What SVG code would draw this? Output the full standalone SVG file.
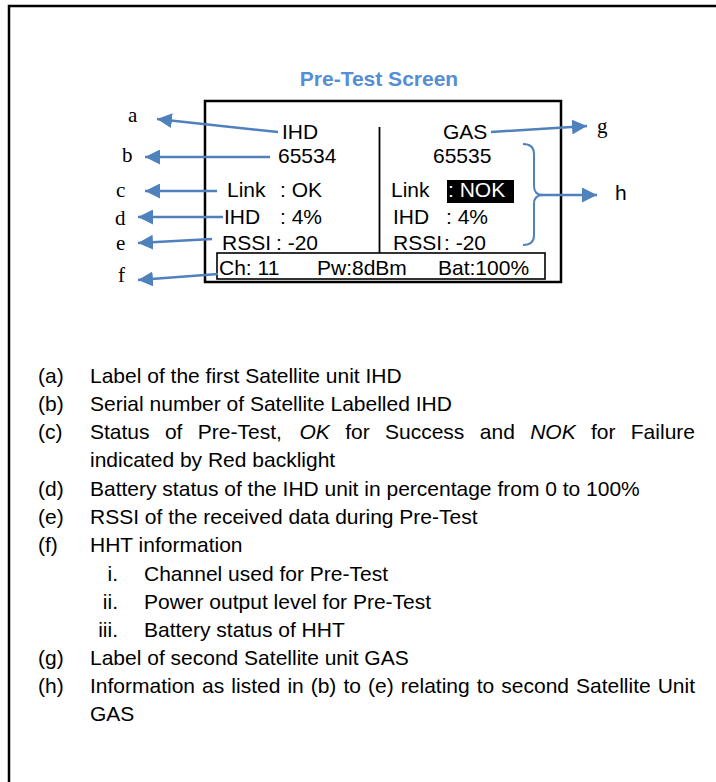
<svg xmlns="http://www.w3.org/2000/svg" width="716" height="782" viewBox="0 0 716 782">
<style>
.s{font-family:"Liberation Sans",Arial,sans-serif;font-size:21px;fill:#000}
.t{font-family:"Liberation Serif","Times New Roman",serif;font-size:21px;fill:#000}
.l{font-family:"Liberation Sans",Arial,sans-serif;font-size:21px;fill:#000}
.ar{stroke:#4F81BD;stroke-width:2.5;fill:none;marker-end:url(#ah)}
.it{font-style:italic}
</style>
<defs>
<marker id="ah" markerUnits="userSpaceOnUse" markerWidth="16" markerHeight="15" refX="15" refY="7.5" orient="auto">
<path d="M0,0 L15,7.5 L0,15 z" fill="#4F81BD"/>
</marker>
</defs>
<rect x="9" y="6" width="730" height="800" fill="#fff" stroke="#000" stroke-width="2.5"/>
<text x="379" y="86" text-anchor="middle" font-family="Liberation Sans, Arial, sans-serif" font-size="21" font-weight="bold" fill="#558ED5">Pre-Test Screen</text>
<g id="screen">
<rect x="205" y="101" width="356" height="181" fill="none" stroke="#000" stroke-width="2.5"/>
<line x1="379.5" y1="127" x2="379.5" y2="253" stroke="#000" stroke-width="1.8"/>
<rect x="217" y="253" width="328" height="26" fill="none" stroke="#000" stroke-width="1.6"/>
<text class="s" x="282" y="139">IHD</text>
<text class="s" x="278" y="163">65534</text>
<text class="s" x="227" y="197">Link</text>
<text class="s" x="280" y="197">: OK</text>
<text class="s" x="224" y="224">IHD</text>
<text class="s" x="280" y="224">: 4%</text>
<text class="s" x="222" y="250">RSSI</text>
<text class="s" x="276" y="250">: -20</text>
<text class="s" x="443" y="139">GAS</text>
<text class="s" x="433" y="163">65535</text>
<text class="s" x="391" y="197">Link</text>
<rect x="447" y="180" width="67" height="23" fill="#000"/>
<text class="s" x="448" y="197" style="fill:#fff">: NOK</text>
<text class="s" x="393" y="224">IHD</text>
<text class="s" x="446" y="224">: 4%</text>
<text class="s" x="393" y="250">RSSI</text>
<text class="s" x="444" y="250">: -20</text>
<text class="s" x="219" y="275">Ch: 11</text>
<text class="s" x="317" y="275">Pw:8dBm</text>
<text class="s" x="438" y="275">Bat:100%</text>
</g>
<g id="labels">
<text class="t" x="128" y="122">a</text>
<text class="t" x="122" y="162">b</text>
<text class="t" x="116" y="197">c</text>
<text class="t" x="115" y="225">d</text>
<text class="t" x="116" y="250">e</text>
<text class="t" x="118" y="282">f</text>
<text class="t" x="597" y="133">g</text>
<text class="s" x="615" y="200">h</text>
</g>
<g id="connectors">
<line class="ar" x1="278" y1="132" x2="157" y2="119"/>
<line class="ar" x1="270" y1="157" x2="145" y2="157"/>
<line class="ar" x1="217" y1="191" x2="145" y2="191"/>
<line class="ar" x1="223" y1="217" x2="138" y2="217"/>
<line class="ar" x1="212" y1="239" x2="138" y2="243"/>
<line class="ar" x1="218" y1="274" x2="138" y2="280"/>
<line class="ar" x1="491" y1="132" x2="587" y2="126"/>
<path d="M523,144 Q534,144 534,154 L534,186 Q534,195 543,195 Q534,195 534,204 L534,235 Q534,245 523,245" fill="none" stroke="#4F81BD" stroke-width="2"/>
<line class="ar" x1="541" y1="195" x2="597" y2="195"/>
</g>
<g id="list">
<text class="l" x="38" y="383">(a)</text>
<text class="l" x="90" y="383">Label of the first Satellite unit IHD</text>
<text class="l" x="38" y="411">(b)</text>
<text class="l" x="90" y="411">Serial number of Satellite Labelled IHD</text>
<text class="l" x="38" y="439">(c)</text>
<text class="l" y="439"><tspan x="90">Status</tspan><tspan x="164.9">of</tspan><tspan x="197.8">Pre-Test,</tspan><tspan x="299.5" class="it">OK</tspan><tspan x="345.2">for</tspan><tspan x="385">Success</tspan><tspan x="479.8">and</tspan><tspan x="530.2" class="it">NOK</tspan><tspan x="591">for</tspan><tspan x="695" text-anchor="end">Failure</tspan></text>
<text class="l" x="90" y="467">indicated by Red backlight</text>
<text class="l" x="38" y="496">(d)</text>
<text class="l" x="90" y="496">Battery status of the IHD unit in percentage from 0 to 100%</text>
<text class="l" x="38" y="524">(e)</text>
<text class="l" x="90" y="524">RSSI of the received data during Pre-Test</text>
<text class="l" x="38" y="552">(f)</text>
<text class="l" x="90" y="552">HHT information</text>
<text class="l" x="118" y="581" text-anchor="end">i.</text>
<text class="l" x="144" y="581">Channel used for Pre-Test</text>
<text class="l" x="118" y="609" text-anchor="end">ii.</text>
<text class="l" x="144" y="609">Power output level for Pre-Test</text>
<text class="l" x="118" y="637" text-anchor="end">iii.</text>
<text class="l" x="144" y="637">Battery status of HHT</text>
<text class="l" x="38" y="665">(g)</text>
<text class="l" x="90" y="665">Label of second Satellite unit GAS</text>
<text class="l" x="38" y="693">(h)</text>
<text class="l" y="693"><tspan x="90">Information</tspan><tspan x="202">as</tspan><tspan x="231.3">listed</tspan><tspan x="287.4">in</tspan><tspan x="310.7">(b)</tspan><tspan x="343.5">to</tspan><tspan x="368">(e)</tspan><tspan x="400.8">relating</tspan><tspan x="476.7">to</tspan><tspan x="501.3">second</tspan><tspan x="576">Satellite</tspan><tspan x="695" text-anchor="end">Unit</tspan></text>
<text class="l" x="90" y="721">GAS</text>
</g>
</svg>
